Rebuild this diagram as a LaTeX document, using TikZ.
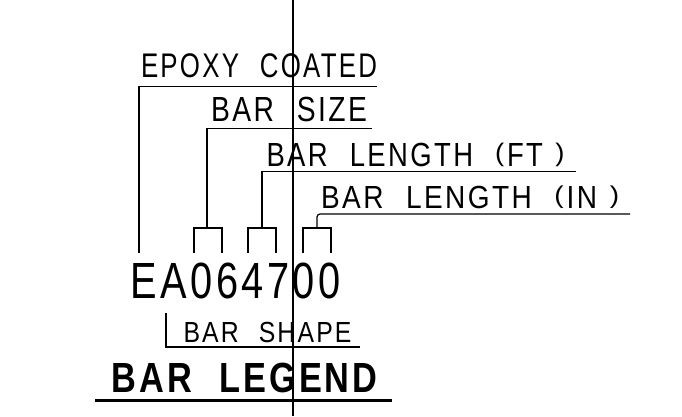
\documentclass[tikz,border=0pt]{standalone}
\usepackage{fontspec}
\usepackage{graphicx}
\newfontfamily\cadfont[FakeStretch=0.8, LetterSpace=7, WordSpace=2.2]{Liberation Sans}
% \cadtxt{width}{cap height}{text}: box of given width, height = cap height
\newcommand{\cadtxt}[3]{\resizebox{#1pt}{#2pt}{\vphantom{E}\smash{#3}}}
\newcommand{\lp}{\raisebox{0.16em}{\scalebox{1}[0.76]{(}}}
\newcommand{\rp}{\raisebox{0.16em}{\scalebox{1}[0.76]{)}}}
\tikzset{
  lbl/.style={inner sep=0pt, outer sep=0pt, anchor=south west, font=\cadfont},
  thin/.style={line width=1.2pt, line join=miter},
  thick/.style={line width=3pt}
}
\begin{document}
\begin{tikzpicture}[x=1pt, y=-1pt]
\useasboundingbox (0,0) rectangle (682,416);
% texts
\node[lbl] (epoxy) at (141,77)  {\cadtxt{236}{23.5}{EPOXY COATED}};
\node[lbl] (size)  at (211,121.5) {\cadtxt{156}{24}{BAR SIZE}};
\node[lbl] (ft)    at (266.5,166.5) {\cadtxt{298}{23}{BAR LENGTH \lp\kern0.08em FT \kern-0.28em\rp}};
\node[lbl] (in)    at (321,208.5) {\cadtxt{298}{22}{BAR LENGTH \lp\kern0.08em IN \kern-0.28em\rp}};
\node[lbl] (code)  at (130.5,298) {\cadtxt{210}{35}{EA064700}};
\node[lbl] (shape) at (183.5,342) {\cadtxt{168}{20}{BAR SHAPE}};
\node[lbl] (title) at (111.5,392) {\cadtxt{266}{29}{\bfseries BAR LEGEND}};
% coordinates
\coordinate (top) at (293,0);
\coordinate (bot) at (293,416);
\coordinate (eL) at (139,86.5);   \coordinate (eR) at (377,86.5);  \coordinate (eE) at (139,253);
\coordinate (sL) at (207,128.5);  \coordinate (sR) at (372,128.5); \coordinate (sB) at (207,228);
\coordinate (fL) at (262,171.5);  \coordinate (fR) at (576,171.5); \coordinate (fB) at (262,228);
\coordinate (iR) at (630,214);    \coordinate (iB) at (317,228);
\coordinate (hT) at (166,313);    \coordinate (hC) at (166,347);   \coordinate (hR) at (360,347);
\coordinate (uL) at (95,400);     \coordinate (uR) at (392,400);
% long vertical line
\draw[thin] (top) -- (bot);
% epoxy coated
\draw[thin] (eR) -- (eL) -- (eE);
% bar size
\draw[thin] (sR) -- (sL) -- (sB);
\draw[thin] (194,253) -- (194,228) -- (222,228) -- (222,253);
% bar length ft
\draw[thin] (fR) -- (fL) -- (fB);
\draw[thin] (248,253) -- (248,228) -- (276,228) -- (276,253);
% bar length in
\draw[thin, rounded corners=3pt] (iB) |- (iR);
\draw[thin] (303,253) -- (303,228) -- (331,228) -- (331,253);
% bar shape
\draw[thin] (hT) -- (hC) -- (hR);
% title underline
\draw[thick] (uL) -- (uR);
\end{tikzpicture}
\end{document}
